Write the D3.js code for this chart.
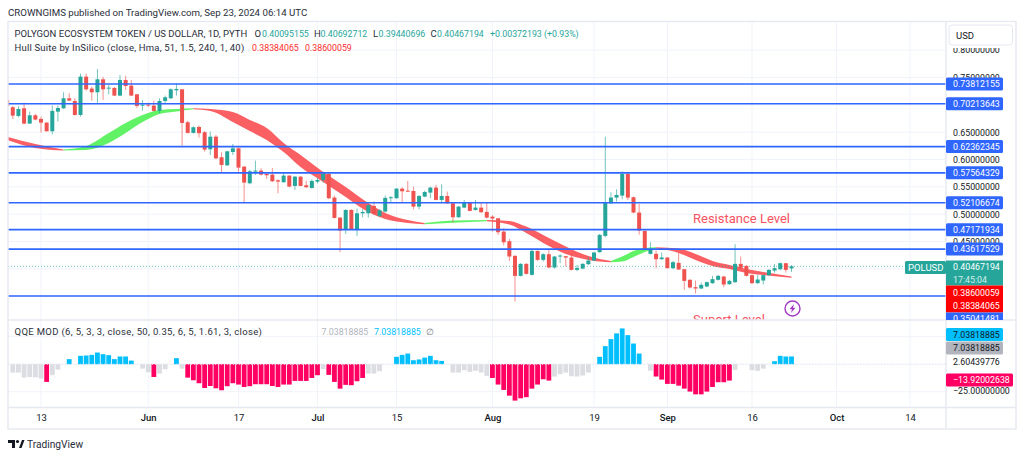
<!DOCTYPE html>
<html>
<head>
<meta charset="utf-8">
<script src="https://d3js.org/d3.v7.min.js"></script>
<style>
    html, body { margin: 0; padding: 0; background: #fff; }
    svg { display: block; }
    text { font-family: "Roboto", sans-serif; }
</style>
</head>
<body>
<div id="chart-area"></div>
<script>
var firstDay = "2024-05-07"
var lastDay = "2024-09-24"

var opens = [
    .7089,.6956,.6797,.6937,.6657,.6809,.6742,.6675,.6517,.6876,.6937,.7120,.7071,.6815,.7516,.7297,.7230,.7467,.7297,.7309,.7169,.7455,.7351,.7193,.6986,
    .7004,.6986,.6889,.7071,.7120,.7266,.7284,.6682,.6487,.6596,.6499,.6187,.6418,.6041,.5894,.6138,.6205,.5870,.5566,.5779,.5797,.5736,.5724,.5620,.5584,.5706,.5517,.5687,.5529,.5480,
    .5596,.5627,.5736,.5304,.4938,.4713,.5078,.4713,.5017,.5017,.5151,.4969,.5048,.5292,.5292,.5468,.5431,.5425,.5139,.5322,.5395,.5486,.5261,.5334,.5200,.4944,.5121,.5212,.5078,.5121,.5042,
    .4956,.4926,.4682,.4506,.4238,.3872,.4092,.3891,.4329,.4165,.4268,.4025,.4226,.4232,.4207,.3982,.4006,.4086,.4153,.4305,.4603,.5200,.5304,.5340,.5736,.5310,.5030,.4695,.4275,.4275,.4177,
    .4208,.4013,.4110,.3994,.3800,.3665,.3641,.3678,.3739,.3800,.3860,.3720,.3757,.4092,.4055,.3885,.3739,.3787,.3885,.3970,.3994,.4104,.40095
]
var highs = [
    .7162,.6980,.6974,.7041,.6876,.6834,.6785,.6682,.6986,.6986,.7230,.7211,.7120,.7571,.7571,.7333,.7656,.7510,.7364,.7327,.7546,.7528,.7455,.7199,.7090,
    .7041,.7077,.7120,.7169,.7303,.7394,.7291,.6706,.6608,.6621,.6523,.6510,.6449,.6132,.6162,.6284,.6217,.5882,.5809,.5980,.5840,.5748,.5846,.5639,.5748,.5712,.5700,.5693,.5614,.5639,
    .5669,.5779,.5748,.5340,.4944,.5091,.5091,.5103,.5091,.5176,.5231,.5091,.5340,.5334,.5474,.5492,.5608,.5504,.5346,.5431,.5504,.5535,.5547,.5413,.5212,.5151,.5261,.5218,.5261,.5212,.5212,
    .4981,.4926,.4743,.4548,.4250,.4104,.4104,.4347,.4335,.4287,.4347,.4238,.4268,.4238,.4287,.4073,.4104,.4213,.4311,.4640,.6418,.5401,.5456,.5785,.5748,.5322,.5188,.4701,.4488,.4335,.4299,
    .4214,.4147,.4299,.4000,.3812,.3787,.3751,.3769,.3873,.3891,.3873,.3800,.4451,.4226,.4067,.3897,.3891,.3897,.3994,.4092,.4116,.4110,.40693
]
var lows = [
    .6961,.6742,.6773,.6645,.6657,.6718,.6493,.6511,.6462,.6694,.6925,.7071,.6803,.6785,.7260,.7077,.7035,.7090,.7193,.7163,.7157,.7272,.7163,.6943,.6895,
    .6962,.6876,.6846,.7010,.7108,.7169,.6255,.6475,.6475,.6401,.6146,.6083,.6004,.5760,.5882,.6083,.5779,.5218,.5547,.5718,.5706,.5645,.5590,.5383,.5578,.5493,.5444,.5511,.5480,.5468,
    .5566,.5578,.5273,.4920,.4305,.4640,.4713,.4603,.4944,.4938,.4987,.4944,.5030,.5212,.5285,.5212,.5407,.5090,.5090,.5310,.5291,.5255,.5218,.5194,.4853,.4938,.5109,.5054,.5066,.5023,.4920,
    .4682,.4621,.4433,.4146,.3403,.3860,.3897,.3879,.4146,.4134,.4012,.4006,.4104,.4043,.3970,.3958,.3994,.4073,.4146,.4299,.4579,.5188,.5231,.5273,.5261,.5018,.4628,.4348,.4262,.4013,.4165,
    .4007,.3994,.3982,.3617,.3641,.3550,.3629,.3665,.3726,.3787,.3665,.3708,.3745,.4000,.3860,.3720,.3726,.3714,.3873,.3933,.3976,.3933,.39441
]
var closes = [
    .6979,.6803,.6925,.6657,.6809,.6730,.6675,.6517,.6889,.6943,.7120,.7077,.6815,.7516,.7284,.7230,.7467,.7284,.7315,.7169,.7455,.7345,.7169,.6980,.7004,
    .6986,.6889,.7071,.7138,.7284,.7291,.6669,.6487,.6590,.6481,.6182,.6418,.6022,.5901,.6150,.6205,.5852,.5578,.5785,.5797,.5724,.5712,.5602,.5596,.5706,.5505,.5687,.5517,.5493,.5608,
    .5627,.5736,.5292,.4932,.4701,.5078,.4725,.5017,.5042,.5164,.5005,.5072,.5298,.5310,.5468,.5419,.5413,.5139,.5334,.5407,.5486,.5261,.5334,.5200,.4944,.5139,.5212,.5060,.5121,.5036,.4938,
    .4920,.4670,.4487,.4226,.3872,.4092,.3909,.4329,.4165,.4268,.4025,.4226,.4244,.4207,.3982,.4018,.4092,.4153,.4299,.4622,.5212,.5304,.5352,.5736,.5304,.5030,.4701,.4366,.4360,.4177,.4208,
    .4013,.4122,.3988,.3781,.3659,.3641,.3708,.3757,.3812,.3873,.3714,.3781,.4092,.4013,.3873,.3739,.3806,.3885,.3982,.4013,.4104,.3982,.40467
]

var hullDates = ["2024-05-07","2024-05-12","2024-05-17","2024-05-21","2024-05-25","2024-05-28","2024-05-31","2024-06-03","2024-06-06","2024-06-09","2024-06-12","2024-06-16","2024-06-19","2024-06-22","2024-06-25","2024-06-28","2024-07-02","2024-07-06","2024-07-10","2024-07-13","2024-07-17","2024-07-20","2024-07-25","2024-07-31","2024-08-04","2024-08-07","2024-08-11","2024-08-14","2024-08-18","2024-08-22","2024-08-24","2024-08-26","2024-08-28","2024-08-30","2024-09-03","2024-09-06","2024-09-09","2024-09-12","2024-09-15","2024-09-18","2024-09-23"]
var hullUpper = [.6418,.6285,.6184,.6248,.6486,.6669,.6815,.6906,.6925,.6937,.6925,.6870,.6723,.6577,.6303,.6084,.5773,.5499,.5206,.5023,.4895,.4841,.4883,.4895,.4877,.4773,.4566,.4411,.4237,.4146,.4225,.4329,.4384,.4396,.4374,.4274,.4146,.4073,.4000,.3945,.3860]
var hullLower = [.6358,.6212,.6166,.6175,.6303,.6486,.6687,.6833,.6879,.6919,.6888,.6687,.6522,.6358,.6138,.5864,.5590,.5316,.5042,.4914,.4841,.4817,.4846,.4872,.4813,.4658,.4420,.4274,.4164,.4122,.4133,.4219,.4310,.4371,.4292,.4164,.4055,.4000,.3927,.3890,.3838]
var hullTurns = ["2024-05-17","2024-06-09","2024-07-20","2024-07-31","2024-08-22","2024-08-30"]

var levels = [0.73812155, 0.70213643, 0.62362345, 0.57564329, 0.52106674, 0.47171934, 0.43617529, 0.35041481]
var priceTicks = [.35,.40,.45,.50,.55,.60,.65,.70,.75,.80]
var priceLabels = [.45,.50,.55,.60,.65,.75,.80]
var dateTicks = ["2024-05-13","2024-06-01","2024-06-17","2024-07-01","2024-07-15","2024-08-01","2024-08-19","2024-09-01","2024-09-16","2024-10-01","2024-10-14"]
var dateLabels = ["13","Jun","17","Jul","15","Aug","19","Sep","16","Oct","14"]

var qqeValues = [
    null,-7.6,-7.6,-12.2,-11.6,-11.9,-13,-16.1,-10,-4.9,null,4.6,null,7.6,7.9,8.5,10.6,9.1,8.2,4.6,7,7,3.3,null,-4,
    -7.3,-11.6,-8.5,-4.6,null,5.5,-4,-12.2,-14.6,-17.3,-21.6,-19.8,-21.9,-23.7,-20,-17.3,-18.5,-20.7,-20,-18.2,-18.2,-18.2,-19.8,-20.7,-18.5,-18.5,-15.2,-15.2,-15.2,-12.5,
    -10,-4.6,-9.7,-16.1,-22.2,-18.8,-19.1,-15.5,-12.5,-8.5,-8.5,-6.4,null,null,6.7,8.5,9.7,3.6,4.3,6,7.6,3.6,3,null,-7.6,-7.6,-5.5,-7,-6,-7.6,-10.6,
    -12.5,-18.5,-23.4,-28.6,-33.1,-31,-30,-22.2,-18.5,-13.7,-14.9,-11.2,-9.1,-7.6,-10.9,-11.2,-10.3,-7.6,null,6.7,16.4,22.8,28,32.5,26.4,18.8,9.7,null,-6,-11.2,-14,
    -17.9,-17.9,-19.5,-22.2,-24.9,-27.4,-27.4,-24.9,-20.7,-16.4,-16.4,-14.9,-5.2,null,null,-5.5,-6,-4,null,2.7,7.6,7,7.04
]
var qqeKinds = [
    "xggggggrggxbxbbbbbbbbbbxg",
    "grggxbgrrrrrrrrrrrrrrrrrrrrrrr",
    "rgrrrrrrrgggxxbbbbbbbbbxggggggg",
    "rrrrrrrrrrrgggggggxbbbbbbbbxgrr",
    "rrrrrrrrrrrrgxxgggxbbbb"
].join("")
var qqeTicks = [-25, 0, 25]

var width = 1024, height = 458
var chartLeft = 8, axisLeft = 946, frameRight = 1016
var frameTop = 21.5, mainBottom = 320, qqeBottom = 407.5, frameBottom = 429
var axisFont = 8.8

var up = "#26a69a", down = "#ef5350", blue = "#2f66ff"
var ink = "#2a2e39", axisInk = "#131722", gridColor = "#f0f3fa", frameColor = "#e6e8f1"
var qqeColors = {g: "#dcdde2", r: "#ff0062", b: "#00bfff"}

var parseDay = d3.utcParse("%Y-%m-%d")
var days = d3.utcDay.range(parseDay(firstDay), parseDay(lastDay))

var candles = days.map((d, i) => {
    return {date: d, open: opens[i], high: highs[i], low: lows[i], close: closes[i]}
})
var qqe = days.map((d, i) => {
    return {date: d, value: qqeValues[i], kind: qqeKinds[i]}
})
var hull = hullDates.map((d, i) => {
    return {date: parseDay(d), upper: hullUpper[i], lower: hullLower[i]}
})

var xScale = d3.scaleUtc()
    .domain([parseDay("2024-05-13"), parseDay("2024-10-14")])
    .range([41, 910])

var yScale = d3.scaleLinear()
    .domain([levels[7], levels[0]])
    .range([296, 84])

var qqeScale = d3.scaleLinear()
    .domain([-25, 25])
    .range([391.7, 336.7])

var svg = d3.select("#chart-area").append("svg")
    .attr("width", width)
    .attr("height", height)

var defs = svg.append("defs")
defs.append("clipPath").attr("id", "main-clip").append("rect")
    .attr("x", chartLeft)
    .attr("y", frameTop)
    .attr("width", axisLeft - chartLeft)
    .attr("height", mainBottom - frameTop)
defs.append("clipPath").attr("id", "axis-clip").append("rect")
    .attr("x", axisLeft)
    .attr("y", frameTop)
    .attr("width", frameRight - axisLeft)
    .attr("height", mainBottom - frameTop)

// grid
var grid = svg.append("g")
grid.selectAll(".v-grid")
    .data(dateTicks)
    .enter().append("line")
    .attr("x1", d => xScale(parseDay(d)))
    .attr("x2", d => xScale(parseDay(d)))
    .attr("y1", frameTop)
    .attr("y2", qqeBottom)
    .attr("stroke", gridColor)
grid.selectAll(".h-grid")
    .data(priceTicks)
    .enter().append("line")
    .attr("x1", chartLeft)
    .attr("x2", axisLeft)
    .attr("y1", d => yScale(d))
    .attr("y2", d => yScale(d))
    .attr("stroke", gridColor)
grid.selectAll(".q-grid")
    .data(qqeTicks)
    .enter().append("line")
    .attr("x1", chartLeft)
    .attr("x2", axisLeft)
    .attr("y1", d => qqeScale(d))
    .attr("y2", d => qqeScale(d))
    .attr("stroke", gridColor)

var main = svg.append("g").attr("clip-path", "url(#main-clip)")

// hull band, one piece per colour
var band = d3.area()
    .x(d => xScale(d.date))
    .y0(d => yScale(d.lower))
    .y1(d => yScale(d.upper))
    .curve(d3.curveMonotoneX)

var edges = [hull[0].date].concat(hullTurns.map(parseDay), [hull[hull.length - 1].date])
d3.pairs(edges).forEach((pair, i) => {
    main.append("path")
        .datum(hull.filter(d => d.date >= pair[0] && d.date <= pair[1]))
        .attr("d", band)
        .attr("fill", i % 2 == 0 ? "#fa5f63" : "#62f266")
})

// last price line
main.append("line")
    .attr("x1", chartLeft)
    .attr("x2", 905)
    .attr("y1", yScale(closes[closes.length - 1]))
    .attr("y2", yScale(closes[closes.length - 1]))
    .attr("stroke", up)
    .attr("stroke-dasharray", "1,2")
    .attr("stroke-opacity", .7)

// candles
var candle = main.selectAll(".candle")
    .data(candles)
    .enter().append("g")
    .attr("class", "candle")
    .attr("fill", d => d.close >= d.open ? up : down)
    .attr("stroke", d => d.close >= d.open ? up : down)
candle.append("line")
    .attr("x1", d => xScale(d.date))
    .attr("x2", d => xScale(d.date))
    .attr("y1", d => yScale(d.high))
    .attr("y2", d => yScale(d.low))
    .attr("stroke-opacity", .65)
candle.append("rect")
    .attr("x", d => xScale(d.date) - 2)
    .attr("width", 4)
    .attr("y", d => yScale(Math.max(d.open, d.close)))
    .attr("height", d => Math.max(1, Math.abs(yScale(d.open) - yScale(d.close))))
    .attr("stroke", "none")

// drawn levels
main.selectAll(".level")
    .data(levels)
    .enter().append("line")
    .attr("class", "level")
    .attr("x1", chartLeft)
    .attr("x2", axisLeft)
    .attr("y1", d => yScale(d))
    .attr("y2", d => yScale(d))
    .attr("stroke", blue)
    .attr("stroke-width", 1.6)

main.append("text")
    .attr("x", 693)
    .attr("y", 223)
    .attr("font-size", 13)
    .attr("fill", "#f7525f")
    .text("Resistance Level")
main.append("text")
    .attr("x", 693)
    .attr("y", 324)
    .attr("font-size", 13)
    .attr("fill", "#f7525f")
    .text("Suport Level")

// flash icon
var icon = main.append("g").attr("transform", "translate(792.5,308.5)")
icon.append("circle")
    .attr("r", 7.5)
    .attr("fill", "#fff")
    .attr("stroke", "#a33bc2")
    .attr("stroke-width", 1.4)
icon.append("path")
    .attr("d", "M1.5,-4.5 L-3,0.8 L-0.5,0.8 L-1.5,4.5 L3,-0.8 L0.5,-0.8 Z")
    .attr("fill", "#a33bc2")

// qqe bars
svg.append("g").selectAll(".qqe-bar")
    .data(qqe.filter(d => d.value !== null))
    .enter().append("rect")
    .attr("class", "qqe-bar")
    .attr("x", d => xScale(d.date) - 2.4)
    .attr("width", 4.8)
    .attr("y", d => qqeScale(Math.max(d.value, 0)))
    .attr("height", d => Math.abs(qqeScale(d.value) - qqeScale(0)))
    .attr("fill", d => qqeColors[d.kind])

svg.append("line")
    .attr("x1", chartLeft)
    .attr("x2", axisLeft)
    .attr("y1", qqeScale(0))
    .attr("y2", qqeScale(0))
    .attr("stroke", "#e4e6ee")
    .attr("stroke-dasharray", "1,2")

// axes
var priceAxis = svg.append("g")
    .attr("clip-path", "url(#axis-clip)")
    .append("g")
    .attr("transform", `translate(953,0)`)
    .call(d3.axisRight(yScale).tickValues(priceLabels).tickSize(0).tickPadding(0).tickFormat(d3.format(".8f")))
priceAxis.select(".domain").remove()
priceAxis.selectAll("text").attr("font-size", axisFont).attr("fill", axisInk)

var timeAxis = svg.append("g")
    .attr("transform", `translate(0,${qqeBottom})`)
    .call(d3.axisBottom(xScale).tickValues(dateTicks.map(parseDay)).tickSize(0).tickPadding(7).tickFormat((d, i) => dateLabels[i]))
timeAxis.select(".domain").remove()
timeAxis.selectAll("text")
    .attr("font-size", 9.5)
    .attr("fill", axisInk)
    .attr("font-weight", (d, i) => isNaN(dateLabels[i]) ? 500 : 400)

// frame
var frame = svg.append("g").attr("fill", "none").attr("stroke", frameColor).attr("stroke-width", 1.4)
frame.append("rect")
    .attr("x", chartLeft)
    .attr("y", frameTop)
    .attr("width", frameRight - chartLeft)
    .attr("height", frameBottom - frameTop)
frame.append("line").attr("x1", axisLeft).attr("x2", axisLeft).attr("y1", frameTop).attr("y2", frameBottom)
frame.append("line").attr("x1", chartLeft).attr("x2", frameRight).attr("y1", mainBottom).attr("y2", mainBottom)
frame.append("line").attr("x1", chartLeft).attr("x2", frameRight).attr("y1", qqeBottom).attr("y2", qqeBottom)

// axis badges
var badges = svg.append("g")
function badge(y, h, w, fill, label, color) {
    badges.append("rect")
        .attr("x", axisLeft)
        .attr("y", y - h / 2)
        .attr("width", w)
        .attr("height", h)
        .attr("rx", 1.5)
        .attr("fill", fill)
    badges.append("text")
        .attr("x", 953)
        .attr("y", y + 3.2)
        .attr("font-size", axisFont)
        .attr("fill", color)
        .text(label)
}
levels.slice(0, 7).forEach(d => {
    badge(yScale(d), 13, 57, blue, d3.format(".8f")(d), "#fff")
})

var clipped = svg.append("g").attr("clip-path", "url(#axis-clip)")
clipped.append("rect")
    .attr("x", axisLeft)
    .attr("y", 312.5)
    .attr("width", 57)
    .attr("height", 13)
    .attr("fill", blue)
clipped.append("text")
    .attr("x", 953)
    .attr("y", 322)
    .attr("font-size", axisFont)
    .attr("fill", "#fff")
    .text(d3.format(".8f")(levels[7]))

badges.append("rect")
    .attr("x", axisLeft)
    .attr("y", 260.5)
    .attr("width", 57)
    .attr("height", 25)
    .attr("fill", up)
badges.append("text").attr("x", 953).attr("y", 270).attr("font-size", axisFont).attr("fill", "#fff").text("0.40467194")
badges.append("text").attr("x", 953).attr("y", 282.5).attr("font-size", axisFont).attr("fill", "#d5eeeb").text("17:45:04")
badges.append("rect")
    .attr("x", 905)
    .attr("y", 261)
    .attr("width", 41)
    .attr("height", 13)
    .attr("rx", 1.5)
    .attr("fill", up)
badges.append("text").attr("x", 908).attr("y", 270.5).attr("font-size", 9.5).attr("fill", "#fff").text("POLUSD")
badges.append("rect")
    .attr("x", axisLeft)
    .attr("y", 285.5)
    .attr("width", 57)
    .attr("height", 27)
    .attr("fill", "#ff0000")
badges.append("text").attr("x", 953).attr("y", 295.5).attr("font-size", axisFont).attr("fill", "#fff").text("0.38600059")
badges.append("text").attr("x", 953).attr("y", 309).attr("font-size", axisFont).attr("fill", "#fff").text("0.38384065")

badge(334.5, 13, 57, "#00bfff", "7.03818885", axisInk)
badge(348, 13, 57, "#b2b5be", "7.03818885", axisInk)
badges.append("text").attr("x", 953).attr("y", 365.2).attr("font-size", axisFont).attr("fill", axisInk).text("2.60439776")
badge(380, 13, 67, "#ff0062", "\u221213.92002638", "#fff")
badges.append("text").attr("x", 953).attr("y", 394.2).attr("font-size", axisFont).attr("fill", axisInk).text("\u221225.00000000")

// currency box, its white pad also cuts the top tick label
svg.append("rect")
    .attr("x", 947)
    .attr("y", 22)
    .attr("width", 68)
    .attr("height", 26)
    .attr("fill", "#fff")
svg.append("rect")
    .attr("x", 949)
    .attr("y", 25)
    .attr("width", 63.5)
    .attr("height", 20)
    .attr("rx", 3)
    .attr("fill", "#fff")
    .attr("stroke", frameColor)
svg.append("text")
    .attr("x", 956)
    .attr("y", 38.5)
    .attr("font-size", 9.5)
    .attr("fill", axisInk)
    .text("USD")

// legends
function legendLine(y, parts, spacing) {
    parts.forEach(p => {
        var isValue = p[2] != ink
        svg.append("text")
            .attr("x", p[0])
            .attr("y", y)
            .attr("font-size", isValue ? axisFont : 9.5)
            .attr("letter-spacing", isValue ? 0 : spacing)
            .attr("fill", p[2])
            .text(p[1])
    })
}
var hullRed = "#ff2b2b", cyan = "#00bfff", qqeGrey = "#b2b5be"

svg.append("text")
    .attr("x", 8)
    .attr("y", 15.5)
    .attr("font-size", 9.7)
    .attr("fill", ink)
    .text("CROWNGIMS published on TradingView.com, Sep 23, 2024 06:14 UTC")

legendLine(36.5, [
    [14.5, "POLYGON ECOSYSTEM TOKEN / US DOLLAR, 1D, PYTH", ink],
    [254.5, "O", ink], [262, "0.40095155", up],
    [314, "H", ink], [320.5, "0.40692712", up],
    [373, "L", ink], [378.5, "0.39440696", up],
    [430.5, "C", ink], [437, "0.40467194", up],
    [490, "+0.00372193 (+0.93%)", up]
], 0)
legendLine(50.5, [
    [14.5, "Hull Suite by InSilico (close, Hma, 51, 1.5, 240, 1, 40)", ink],
    [252, "0.38384065", hullRed], [305, "0.38600059", hullRed]
], .2)
legendLine(335, [
    [14.5, "QQE MOD (6, 5, 3, 3, close, 50, 0.35, 6, 5, 1.61, 3, close)", ink],
    [321.5, "7.03818885", qqeGrey], [374, "7.03818885", cyan], [426, "\u2205", "#787b86"]
], .34)

// logo
svg.append("path")
    .attr("d", "M8,440 h7 v8 h-3 v-5 h-4 Z M19,448 l3,-8 h2.5 l-3,8 Z")
    .attr("fill", axisInk)
svg.append("circle")
    .attr("cx", 17.5)
    .attr("cy", 441.5)
    .attr("r", 1.6)
    .attr("fill", axisInk)
svg.append("text")
    .attr("x", 27)
    .attr("y", 448)
    .attr("font-size", 10.2)
    .attr("fill", ink)
    .text("TradingView")
</script>
</body>
</html>
